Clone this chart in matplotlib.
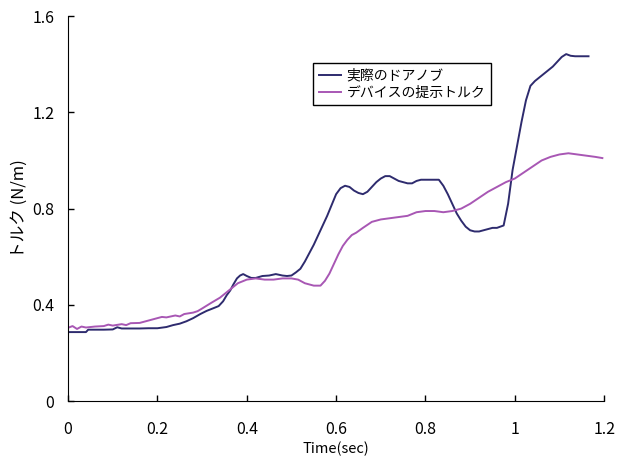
import matplotlib
matplotlib.use("Agg")
import matplotlib.pyplot as plt

plt.rcParams['font.family'] = ['Noto Sans CJK JP', 'DejaVu Sans']

# 実際のドアノブ (actual door knob)
door_t = [0.00, 0.02, 0.04, 0.045, 0.08, 0.10, 0.11, 0.12, 0.16, 0.18, 0.20, 0.22,
          0.235, 0.25, 0.265, 0.28, 0.296, 0.31, 0.325, 0.337, 0.347, 0.355, 0.363,
          0.37, 0.378, 0.385, 0.392, 0.40, 0.41, 0.42, 0.435, 0.45, 0.465, 0.48,
          0.49, 0.50, 0.51, 0.52, 0.53, 0.54, 0.55, 0.56, 0.57, 0.58, 0.59, 0.60,
          0.61, 0.62, 0.63, 0.64, 0.65, 0.66, 0.67, 0.68, 0.69, 0.70, 0.71, 0.72,
          0.73, 0.74, 0.75, 0.76, 0.77, 0.78, 0.79, 0.80, 0.82, 0.83, 0.84, 0.85,
          0.86, 0.87, 0.88, 0.89, 0.90, 0.91, 0.92, 0.93, 0.94, 0.95, 0.96, 0.975,
          0.985, 0.995, 1.005, 1.015, 1.025, 1.035, 1.045, 1.055, 1.065, 1.075,
          1.085, 1.095, 1.105, 1.115, 1.125, 1.135, 1.165]
door_v = [0.287, 0.287, 0.287, 0.297, 0.297, 0.298, 0.307, 0.302, 0.302, 0.303, 0.303, 0.308,
          0.316, 0.322, 0.332, 0.345, 0.362, 0.375, 0.386, 0.395, 0.415, 0.44, 0.46,
          0.485, 0.51, 0.522, 0.528, 0.52, 0.512, 0.512, 0.52, 0.522, 0.528, 0.522,
          0.52, 0.522, 0.535, 0.55, 0.58, 0.615, 0.65, 0.69, 0.73, 0.77, 0.815, 0.86,
          0.885, 0.895, 0.89, 0.875, 0.865, 0.86, 0.87, 0.89, 0.91, 0.925, 0.935, 0.935,
          0.925, 0.915, 0.91, 0.905, 0.905, 0.915, 0.92, 0.92, 0.92, 0.92, 0.895, 0.86,
          0.82, 0.78, 0.75, 0.725, 0.71, 0.705, 0.705, 0.71, 0.715, 0.72, 0.72, 0.73,
          0.82, 0.96, 1.06, 1.16, 1.25, 1.31, 1.33, 1.345, 1.36, 1.375,
          1.39, 1.41, 1.43, 1.442, 1.435, 1.433, 1.433]

# デバイスの提示トルク (torque presented by the device)
dev_t = [0.00, 0.01, 0.02, 0.03, 0.04, 0.06, 0.08, 0.09, 0.10, 0.12, 0.13, 0.14,
         0.16, 0.18, 0.20, 0.21, 0.22, 0.24, 0.25, 0.26, 0.28, 0.29, 0.30, 0.32,
         0.34, 0.36, 0.38, 0.40, 0.42, 0.44, 0.46, 0.48, 0.50, 0.515, 0.53, 0.55,
         0.565, 0.575, 0.585, 0.595, 0.605, 0.615, 0.625, 0.635, 0.645, 0.66, 0.68,
         0.70, 0.72, 0.74, 0.76, 0.78, 0.80, 0.82, 0.84, 0.86, 0.88, 0.90, 0.92,
         0.94, 0.96, 0.98, 1.00, 1.02, 1.04, 1.06, 1.08, 1.10, 1.12, 1.14, 1.16,
         1.18, 1.196]
dev_v = [0.305, 0.312, 0.300, 0.310, 0.306, 0.310, 0.312, 0.318, 0.314, 0.320, 0.316, 0.324,
         0.325, 0.335, 0.345, 0.350, 0.348, 0.356, 0.352, 0.362, 0.368, 0.374, 0.385, 0.408,
         0.43, 0.46, 0.49, 0.505, 0.51, 0.505, 0.505, 0.51, 0.51, 0.505, 0.49, 0.48,
         0.48, 0.50, 0.53, 0.57, 0.61, 0.645, 0.67, 0.69, 0.70, 0.72, 0.745,
         0.755, 0.76, 0.765, 0.77, 0.785, 0.79, 0.79, 0.785, 0.79, 0.80, 0.82, 0.845,
         0.87, 0.89, 0.91, 0.925, 0.95, 0.975, 1.00, 1.015, 1.025, 1.03, 1.025, 1.02,
         1.015, 1.01]

x_ticks = [0, 0.2, 0.4, 0.6, 0.8, 1.0, 1.2]
x_tick_labels = ['0', '0.2', '0.4', '0.6', '0.8', '1', '1.2']
y_ticks = [0, 0.4, 0.8, 1.2, 1.6]
y_tick_labels = ['0', '0.4', '0.8', '1.2', '1.6']

fig = plt.figure(figsize=(6.19, 4.59), dpi=100)
ax = fig.add_axes([0.110, 0.126, 0.866, 0.839])

ax.plot(door_t, door_v, color='#2e2b6e', lw=1.4, label='実際のドアノブ')
ax.plot(dev_t, dev_v, color='#a857b4', lw=1.4, label='デバイスの提示トルク')

ax.set_xlim(0, 1.2)
ax.set_ylim(0, 1.6)
ax.set_xticks(x_ticks)
ax.set_xticklabels(x_tick_labels)
ax.set_yticks(y_ticks)
ax.set_yticklabels(y_tick_labels)
ax.tick_params(direction='in', length=4, width=1, labelsize=11.5)
ax.tick_params(axis='x', pad=14)
ax.tick_params(axis='y', pad=10)
ax.spines['top'].set_visible(False)
ax.spines['right'].set_visible(False)

ax.set_xlabel('Time(sec)', fontsize=10.5, labelpad=3)
ax.set_ylabel('トルク (N/m)', fontsize=12, labelpad=3)

leg = ax.legend(loc='upper left', bbox_to_anchor=(0.457, 0.878), borderaxespad=0,
                fancybox=False, framealpha=1, edgecolor='black', handlelength=1.6,
                prop={'size': 10},
                labelspacing=0.2, handletextpad=0.4, borderpad=0.4)
leg.get_frame().set_linewidth(1.0)

fig.savefig('out.png', dpi=100)
